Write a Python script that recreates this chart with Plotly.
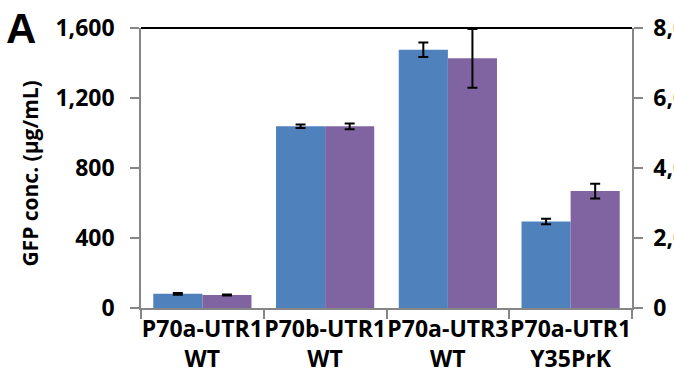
import plotly.graph_objects as go

categories = ["P70a-UTR1<br>WT", "P70b-UTR1<br>WT", "P70a-UTR3<br>WT", "P70a-UTR1<br>Y35PrK"]
gfp_conc = [81, 1039, 1476, 494]
gfp_err = [5, 10, 41, 16]
second_vals = [370, 5190, 7135, 3340]
second_err = [15, 80, 840, 210]

FONT = "Open Sans"
GRAY = "#868686"

fig = go.Figure()
fig.add_trace(go.Bar(
    x=categories, y=gfp_conc, name="GFP conc.",
    marker=dict(color="#4F81BD", line=dict(width=0)),
    error_y=dict(type="data", array=gfp_err, color="black", thickness=2, width=5),
    offsetgroup="a", yaxis="y",
))
fig.add_trace(go.Bar(
    x=categories, y=second_vals, name="second",
    marker=dict(color="#8064A2", line=dict(width=0)),
    error_y=dict(type="data", array=second_err, color="black", thickness=2, width=5),
    offsetgroup="b", yaxis="y2",
))

tickfont = dict(family=FONT, size=23, color="black", weight="bold")

fig.update_layout(
    width=674, height=388,
    margin=dict(l=141, r=42, t=28, b=80, autoexpand=False),
    paper_bgcolor="white", plot_bgcolor="white",
    showlegend=False,
    barmode="group", bargap=0.2, bargroupgap=0,
    xaxis=dict(
        showline=True, linecolor=GRAY, linewidth=1.5,
        ticks="outside", tickson="boundaries", ticklen=9, tickcolor=GRAY, tickwidth=1.5,
        tickfont=tickfont, showgrid=False, zeroline=False,
        tickangle=0, automargin=False,
    ),
    yaxis=dict(
        range=[0, 1600], tickvals=[0, 400, 800, 1200, 1600], tickformat=",",
        showline=True, linecolor=GRAY, linewidth=1.5,
        ticks="outside", ticklen=9, tickcolor=GRAY, tickwidth=1.5,
        tickfont=tickfont, showgrid=False, zeroline=False,
        ticklabelstandoff=11, automargin=False,
    ),
    yaxis2=dict(
        range=[0, 8000], tickvals=[0, 2000, 4000, 6000, 8000], tickformat=",",
        overlaying="y", side="right",
        showline=True, linecolor=GRAY, linewidth=1.5,
        ticks="outside", ticklen=9, tickcolor=GRAY, tickwidth=1.5,
        tickfont=tickfont, showgrid=False, zeroline=False,
        ticklabelstandoff=6, automargin=False,
    ),
    shapes=[dict(type="line", xref="paper", yref="paper", x0=0, x1=1, y0=1, y1=1,
                 line=dict(color="black", width=2))],
    annotations=[
        dict(text="GFP conc. (µg/mL)", xref="paper", yref="paper",
             x=(30 - 141) / 491, y=0.48, xanchor="center", yanchor="middle",
             textangle=-90, showarrow=False,
             font=dict(family=FONT, size=21, color="black", weight="bold")),
        dict(text="A", xref="paper", yref="paper",
             x=(21 - 141) / 491, y=(308 - 28) / 280, xanchor="center", yanchor="middle",
             showarrow=False,
             font=dict(family="Liberation Sans", size=42, color="black", weight="bold")),
    ],
)

fig.write_html("out.html")
